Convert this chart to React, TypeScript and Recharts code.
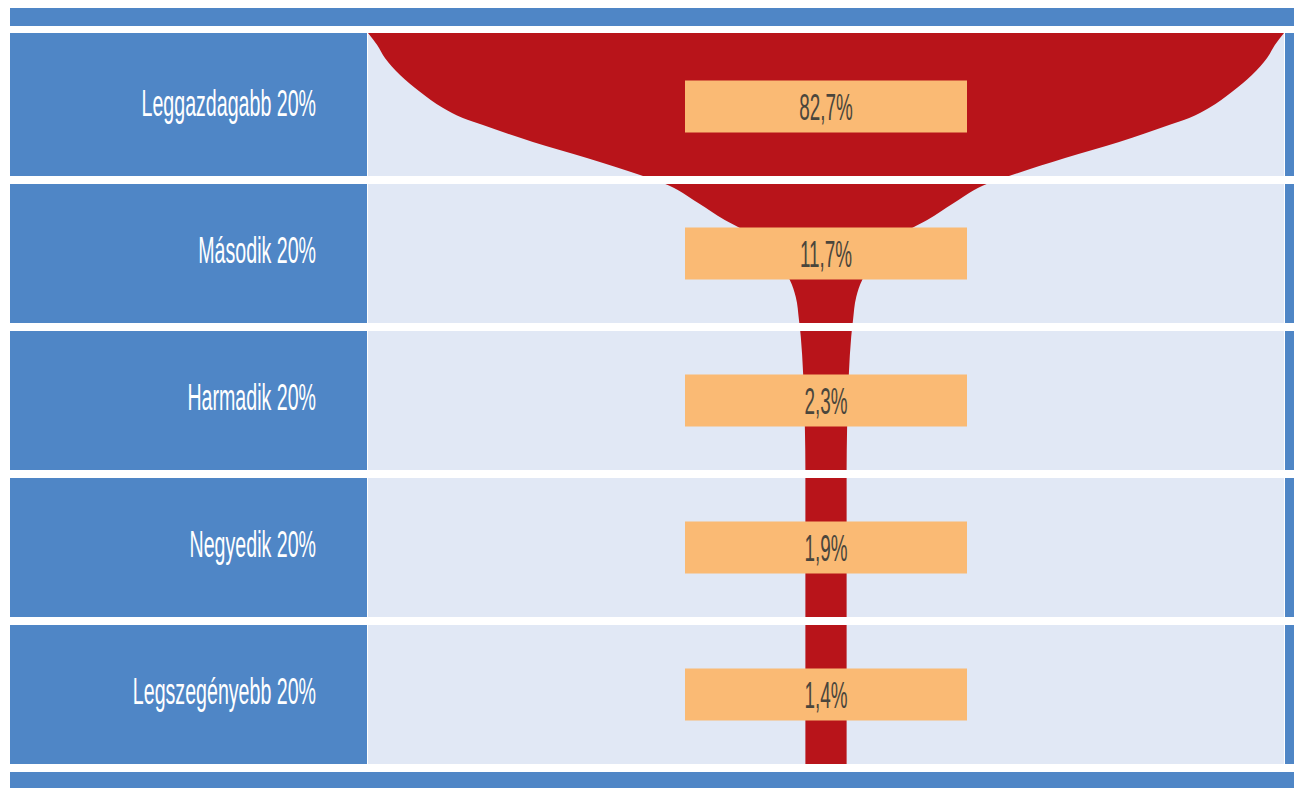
import {
  Area,
  CartesianGrid,
  ComposedChart,
  ReferenceLine,
  Scatter,
  XAxis,
  YAxis,
} from 'recharts'

const groups = ['Leggazdagabb 20%', 'Második 20%', 'Harmadik 20%', 'Negyedik 20%', 'Legszegényebb 20%']
const shares = [82.7, 11.7, 2.3, 1.9, 1.4]

// outline of the glass: depth in rows from the top, half width (1 = half the plot width)
const depth = [0, 0.082, 0.17, 0.286, 0.401, 0.51, 0.578, 0.626, 0.741, 0.85, 0.966, 1.02, 1.156, 1.272, 1.327, 1.68, 1.796, 1.952, 2.068, 2.313, 2.701, 2.973, 5]
const halfWidth = [1, 0.98, 0.963, 0.93, 0.886, 0.836, 0.793, 0.749, 0.64, 0.522, 0.406, 0.356, 0.279, 0.221, 0.188, 0.079, 0.066, 0.059, 0.055, 0.05, 0.046, 0.045, 0.045]

const W = 1294
const H = 788
const MARGIN = { top: 33, right: 0, bottom: 20, left: 10 }
const LABEL_W = 358
const STRIP_W = 10
const GAP = 8
const ROW_PX = (H - MARGIN.top - MARGIN.bottom) / groups.length

const BLUE = '#4F86C6'
const PALE = '#E1E8F5'
const RED = '#B8141A'
const ORANGE = '#FABA74'
const FONT = '"Liberation Sans", Arial, sans-serif'

const glass = depth.map((d, i) => ({ d, half: halfWidth[i] }))
const boxes = shares.map((s, i) => ({
  d: i + 0.5,
  x: 0,
  label: s.toFixed(1).replace('.', ',') + '%',
}))
const rowTicks = groups.map((_, i) => i + 0.5)
const rowEdges = groups.map((_, i) => i + 1)

function rowSpan(i: number, y: number) {
  const top = y - ROW_PX / 2 + (i === 0 ? 0 : GAP / 2)
  const bottom = y + ROW_PX / 2 - GAP / 2
  return { top, height: bottom - top }
}

function LabelTick(props: any) {
  const { x, y, payload } = props
  const i = Math.floor(payload.value)
  const { top, height } = rowSpan(i, y)
  return (
    <g>
      <rect x={x - LABEL_W} y={top} width={LABEL_W - 1} height={height} fill={BLUE} />
      <text
        transform={`translate(${x - 52},${y + 9}) scale(0.53,1)`}
        textAnchor="end"
        fill="#fff"
        fontSize={37}
        fontFamily={FONT}
      >
        {groups[i]}
      </text>
    </g>
  )
}

function StripTick(props: any) {
  const { x, y, payload } = props
  const i = Math.floor(payload.value)
  const { top, height } = rowSpan(i, y)
  return <rect x={x + 1} y={top} width={STRIP_W - 1} height={height} fill={BLUE} />
}

function ShareBox(props: any) {
  const { cx, cy, payload } = props
  return (
    <g>
      <rect x={cx - 141} y={cy - 26} width={282} height={52} fill={ORANGE} />
      <text
        transform={`translate(${cx},${cy + 13}) scale(0.51,1)`}
        textAnchor="middle"
        fill="#4a463c"
        fontSize={37}
        fontFamily={FONT}
      >
        {payload.label}
      </text>
    </g>
  )
}

export default function App() {
  return (
    <div style={{ position: 'absolute', left: 0, top: 0, width: W, height: H, background: '#fff' }}>
      <div style={{ position: 'absolute', left: 10, top: 8, width: W - 10, height: 18, background: BLUE }} />
      <div style={{ position: 'absolute', left: 10, top: 772, width: W - 10, height: 16, background: BLUE }} />
      <div style={{ position: 'absolute', left: 0, top: 0 }}>
        <ComposedChart width={W} height={H} data={glass} layout="vertical" margin={MARGIN}>
          <CartesianGrid horizontal={false} vertical={false} fill={PALE} fillOpacity={1} />
          <XAxis type="number" domain={[-1, 1]} allowDataOverflow hide />
          <YAxis
            yAxisId="left"
            type="number"
            dataKey="d"
            domain={[0, 5]}
            allowDataOverflow
            ticks={rowTicks}
            width={LABEL_W}
            tickSize={0}
            tickMargin={0}
            axisLine={false}
            tickLine={false}
            tick={<LabelTick />}
            interval={0}
          />
          <YAxis
            yAxisId="right"
            orientation="right"
            type="number"
            dataKey="d"
            domain={[0, 5]}
            allowDataOverflow
            ticks={rowTicks}
            width={STRIP_W}
            tickSize={0}
            tickMargin={0}
            axisLine={false}
            tickLine={false}
            tick={<StripTick />}
            interval={0}
          />
          <Area
            yAxisId="left"
            dataKey={(p: any) => [-p.half, p.half]}
            type="monotone"
            stroke="none"
            fill={RED}
            fillOpacity={1}
            isAnimationActive={false}
          />
          {rowEdges.map((e) => (
            <ReferenceLine key={e} yAxisId="left" y={e} stroke="#fff" strokeWidth={GAP} />
          ))}
          <Scatter
            yAxisId="left"
            data={boxes}
            dataKey="x"
            shape={<ShareBox />}
            isAnimationActive={false}
          />
        </ComposedChart>
      </div>
    </div>
  )
}
